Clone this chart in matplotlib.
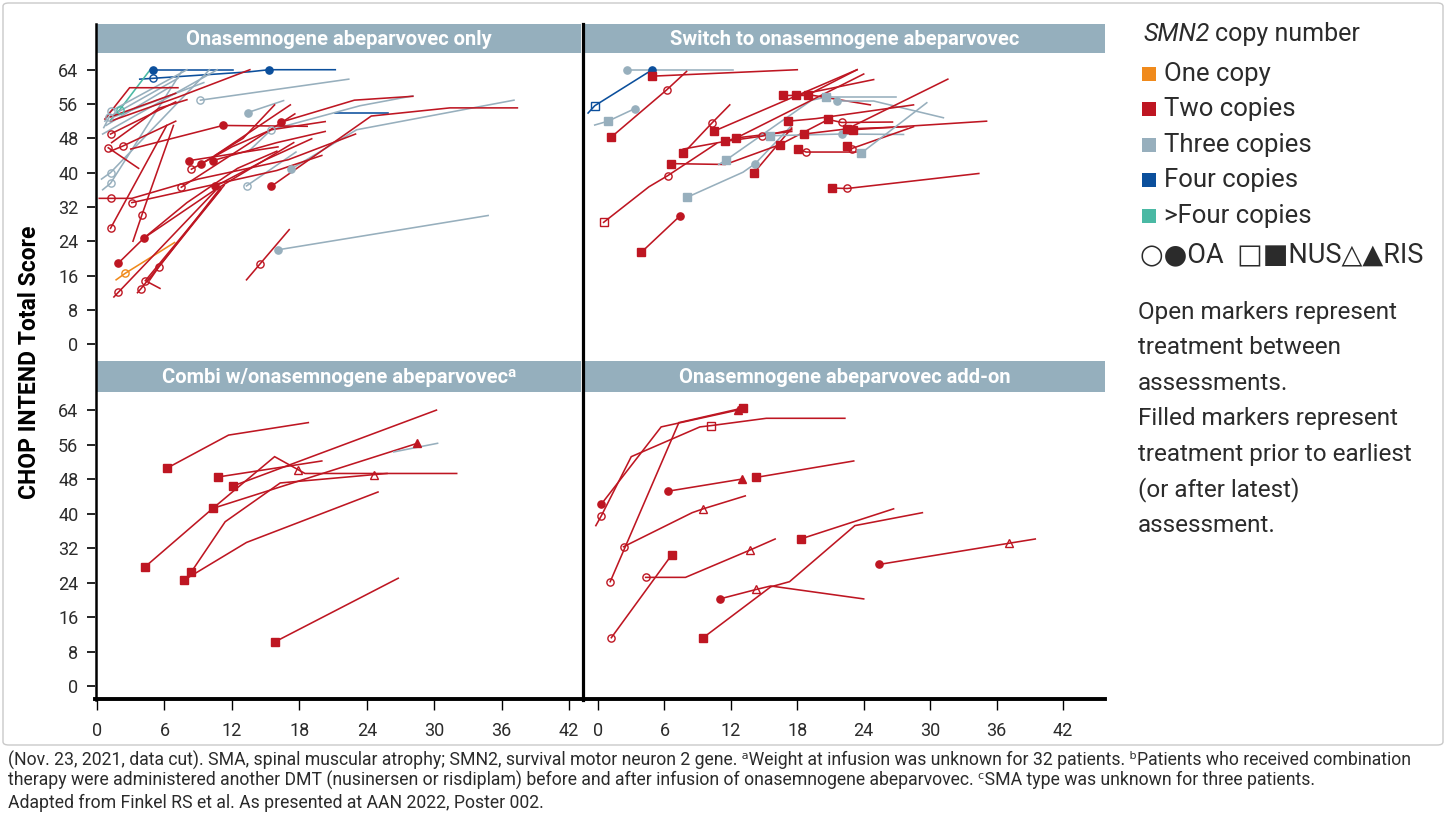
import matplotlib
matplotlib.use("Agg")
import matplotlib.pyplot as plt
from matplotlib.patches import Rectangle, FancyBboxPatch
from matplotlib.lines import Line2D

plt.rcParams['font.family'] = ['Roboto', 'DejaVu Sans']

# ---------------- data ----------------
# SMN2 copy number: 1..4, 5 means ">4"
# each trajectory: (copies, months, scores, treatment markers)
# treatment marker: (month, score, drug, given_between_assessments)

only_traj = [
    (4, [5.0, 12.1], [64.0, 64.0], [(5.0, 64.0, 'OA', False)]),
    (4, [3.8, 5.0, 13.5, 15.3, 21.2], [61.8, 62.0, 63.5, 64.0, 64.0],
     [(5.0, 62.0, 'OA', True), (15.3, 64.0, 'OA', False)]),
    (4, [21.2, 25.9], [54.0, 54.0], []),
    (5, [1.2, 2.0, 4.7], [52.3, 54.6, 63.9], [(2.0, 54.6, 'OA', True)]),
    (1, [1.7, 2.5, 6.9], [15.0, 16.5, 23.7], [(2.5, 16.5, 'OA', True)]),
    (3, [9.2, 22.4], [56.9, 61.8], [(9.2, 56.9, 'OA', True)]),
    (3, [13.4, 16.6], [54.0, 56.8], [(13.4, 54.0, 'OA', False)]),
    (3, [17.3, 23.1, 37.1], [40.9, 50.0, 56.9], [(17.3, 40.9, 'OA', False)]),
    (3, [13.3, 17.7], [36.9, 44.8], [(13.3, 36.9, 'OA', True)]),
    (3, [13.5, 15.5, 23.4, 28.1], [45.0, 50.0, 55.6, 57.9], [(15.5, 50.0, 'OA', True)]),
    (3, [16.1, 34.8], [22.0, 30.0], [(16.1, 22.0, 'OA', False)]),
    (3, [0.5, 1.2, 7.5], [36.0, 37.5, 63.5], [(1.2, 37.5, 'OA', True)]),
    (3, [0.4, 1.2, 10.0], [38.5, 40.0, 64.0], [(1.2, 40.0, 'OA', True)]),
    (3, [0.5, 10.7], [49.0, 64.0], []),
    (3, [0.7, 1.2, 8.0], [52.0, 54.3, 64.0], [(1.2, 54.3, 'OA', True)]),
    (3, [0.6, 1.1, 7.2], [50.5, 53.0, 62.0], [(1.1, 53.0, 'OA', True)]),
    (3, [0.8, 6.5], [51.0, 60.0], []),
    (3, [1.5, 9.5], [53.0, 61.0], []),
    (2, [1.2, 6.2], [27.0, 51.0], [(1.2, 27.0, 'OA', True)]),
    (2, [3.2, 4.0, 6.8], [24.0, 30.2, 51.0], [(4.0, 30.2, 'OA', True)]),
    (2, [0.2, 1.2, 3.1, 9.0, 17.0, 23.0], [34.0, 34.0, 34.0, 38.5, 43.0, 49.0],
     [(1.2, 34.0, 'OA', True)]),
    (2, [3.1, 10.0, 16.0, 20.0], [33.0, 37.0, 40.5, 44.0], [(3.1, 33.0, 'OA', True)]),
    (2, [1.9, 4.2, 10.5, 17.5], [18.9, 24.8, 36.0, 47.0], [(1.9, 18.9, 'OA', False)]),
    (2, [4.2, 8.0, 12.5, 16.0], [24.8, 33.0, 41.0, 45.0], [(4.2, 24.8, 'OA', False)]),
    (2, [1.5, 1.9, 10.5], [11.0, 12.1, 35.7], [(1.9, 12.1, 'OA', True)]),
    (2, [3.6, 3.9, 11.0], [12.0, 12.9, 36.0], [(3.9, 12.9, 'OA', True)]),
    (2, [5.6, 4.3, 11.3], [13.0, 14.8, 37.0], [(4.3, 14.8, 'OA', True)]),
    (2, [4.7, 5.5, 11.0], [15.0, 18.0, 36.5], [(5.5, 18.0, 'OA', True)]),
    (2, [13.3, 14.5, 17.1], [15.0, 18.7, 26.7], [(14.5, 18.7, 'OA', True)]),
    (2, [7.5, 17.6], [36.6, 53.7], [(7.5, 36.6, 'OA', True)]),
    (2, [8.4, 12.0, 15.5, 20.3], [40.8, 46.0, 50.0, 51.9], [(8.4, 40.8, 'OA', True)]),
    (2, [8.2, 16.1], [42.8, 46.0], [(8.2, 42.8, 'OA', False)]),
    (2, [9.25, 13.0, 15.8], [42.0, 48.0, 55.8], [(9.25, 42.0, 'OA', False)]),
    (2, [10.3, 16.0, 20.3], [42.8, 47.0, 49.6], [(10.3, 42.8, 'OA', False)]),
    (2, [10.5, 15.0, 19.1], [36.8, 43.0, 47.9], [(10.5, 36.8, 'OA', False)]),
    (2, [15.5, 24.4, 31.4, 37.4], [36.8, 53.2, 55.1, 55.1], [(15.5, 36.8, 'OA', False)]),
    (2, [16.4, 22.9, 28.1], [51.8, 56.9, 57.8], [(16.4, 51.8, 'OA', False)]),
    (2, [3.0, 11.2, 18.7], [45.5, 51.0, 50.8], [(11.2, 51.0, 'OA', False)]),
    (2, [10.5, 17.2], [44.0, 55.8], []),
    (2, [1.2, 7.2, 13.6], [52.0, 57.6, 64.0], []),
    (2, [1.2, 7.0], [49.0, 56.5], [(1.2, 49.0, 'OA', True)]),
    (2, [0.7, 2.9, 7.2], [52.5, 59.8, 59.8], []),
    (2, [1.2, 7.0], [53.0, 58.5], []),
    (2, [1.0, 3.7], [45.8, 41.0], [(1.0, 45.8, 'OA', True)]),
    (2, [1.2, 2.3, 7.0], [45.0, 46.2, 52.0], [(2.3, 46.2, 'OA', True)]),
    (2, [1.3, 5.5, 8.0], [47.0, 55.0, 57.0], []),
]

switch_traj = [
    (4, [-0.9, -0.3, 4.9], [53.9, 55.6, 64.0], [(-0.3, 55.6, 'NUS', True), (4.9, 64.0, 'OA', False)]),
    (3, [2.6, 12.2], [64.0, 64.0], [(2.6, 64.0, 'OA', False)]),
    (2, [4.9, 18.0], [62.5, 64.0], [(4.9, 62.5, 'NUS', False)]),
    (3, [-0.3, 0.9, 3.3], [51.1, 52.0, 54.9], [(0.9, 52.0, 'NUS', False), (3.3, 54.9, 'OA', False)]),
    (2, [1.2, 6.2, 8.0], [48.3, 59.3, 63.6], [(1.2, 48.3, 'NUS', False), (6.2, 59.3, 'OA', True)]),
    (2, [0.5, 4.6, 6.3, 10.7], [28.4, 36.7, 39.3, 46.8], [(0.5, 28.4, 'NUS', True), (6.3, 39.3, 'OA', True)]),
    (2, [3.9, 7.4], [21.4, 29.9], [(3.9, 21.4, 'NUS', False), (7.4, 29.9, 'OA', False)]),
    (3, [8.0, 13.1, 14.2, 17.5], [34.2, 40.1, 42.1, 51.0], [(8.0, 34.2, 'NUS', False), (14.2, 42.1, 'OA', False)]),
    (2, [7.7, 10.3, 11.9], [44.5, 51.6, 55.8], [(7.7, 44.5, 'NUS', False), (10.3, 51.6, 'OA', True)]),
    (2, [7.7, 11.5, 12.5, 17.5], [45.5, 47.3, 48.1, 49.6], [(11.5, 47.3, 'NUS', False)]),
    (2, [6.6, 11.5, 16.4, 20.8], [42.1, 41.9, 46.5, 52.4], [(6.6, 42.1, 'NUS', False), (16.4, 46.5, 'NUS', False)]),
    (3, [10.9, 11.6, 19.3, 21.0], [41.9, 43.0, 56.9, 57.8], [(11.6, 43.0, 'NUS', False)]),
    (2, [10.5, 23.4], [49.7, 64.0], [(10.5, 49.7, 'NUS', False)]),
    (2, [12.5, 24.0], [48.1, 63.0], [(12.5, 48.1, 'NUS', False)]),
    (2, [11.5, 14.8, 17.5], [47.3, 48.5, 50.0], [(14.8, 48.5, 'OA', True)]),
    (2, [14.1, 17.5], [40.0, 50.4], [(14.1, 40.0, 'NUS', False)]),
    (3, [15.5, 22.0, 27.6], [48.6, 49.0, 48.9], [(15.5, 48.6, 'NUS', False), (22.0, 49.0, 'OA', False)]),
    (2, [16.7, 19.45, 24.6], [58.0, 58.0, 55.8], [(16.7, 58.0, 'NUS', False)]),
    (2, [17.9, 24.9], [58.0, 61.7], [(17.9, 58.0, 'NUS', False)]),
    (2, [19.0, 23.4], [58.2, 64.0], [(19.0, 58.2, 'NUS', False)]),
    (3, [20.6, 26.9], [57.7, 57.7], [(20.6, 57.7, 'NUS', False)]),
    (3, [21.6, 24.9, 31.2], [56.7, 56.7, 52.8], [(21.6, 56.7, 'OA', False)]),
    (2, [17.2, 19.7, 28.5], [52.0, 52.6, 55.8], [(17.2, 52.0, 'NUS', False)]),
    (2, [20.8, 22.0, 26.6], [52.4, 51.7, 51.8], [(20.8, 52.4, 'NUS', False), (22.0, 51.7, 'OA', True)]),
    (2, [22.5, 31.6], [50.2, 61.8], [(22.5, 50.2, 'NUS', False)]),
    (2, [23.0, 35.1], [50.0, 52.0], [(23.0, 50.0, 'NUS', False)]),
    (2, [18.6, 22.5, 27.9], [49.0, 50.2, 50.7], [(18.6, 49.0, 'NUS', False)]),
    (2, [22.5, 22.9, 28.5], [46.2, 45.6, 50.7], [(22.5, 46.2, 'NUS', False), (22.9, 45.6, 'OA', True)]),
    (2, [18.1, 18.8, 23.3], [45.5, 44.8, 44.8], [(18.1, 45.5, 'NUS', False), (18.8, 44.8, 'OA', True)]),
    (3, [23.8, 29.7], [44.6, 56.3], [(23.8, 44.6, 'NUS', False)]),
    (2, [21.1, 22.5, 34.4], [36.4, 36.3, 39.8], [(21.1, 36.4, 'NUS', False), (22.5, 36.3, 'OA', True)]),
]

combi_traj = [
    (2, [6.2, 11.7, 18.8], [50.5, 58.2, 61.1], [(6.2, 50.5, 'NUS', False)]),
    (2, [10.8, 20.0], [48.5, 52.2], [(10.8, 48.5, 'NUS', False)]),
    (2, [4.3, 10.3, 15.8, 18.5, 32.0], [27.7, 41.2, 53.2, 49.3, 49.3],
     [(4.3, 27.7, 'NUS', False), (17.9, 50.2, 'RIS', True)]),
    (2, [12.1, 30.2], [46.4, 64.0], [(12.1, 46.4, 'NUS', False)]),
    (2, [10.3, 28.5], [41.2, 56.3], [(10.3, 41.2, 'NUS', False), (28.5, 56.3, 'RIS', False)]),
    (3, [26.4, 30.3], [54.3, 56.3], []),
    (2, [8.4, 11.4, 16.3, 25.8], [26.5, 38.1, 47.1, 49.3],
     [(8.4, 26.5, 'NUS', False), (24.6, 49.0, 'RIS', True)]),
    (2, [7.7, 13.3, 25.0], [24.5, 33.3, 45.0], [(7.7, 24.5, 'NUS', False)]),
    (2, [15.8, 26.8], [10.2, 25.0], [(15.8, 10.2, 'NUS', False)]),
]

addon_traj = [
    (2, [-0.2, 0.3, 3.0, 9.2, 10.2, 15.2, 22.3], [37.2, 39.5, 53.2, 60.1, 60.4, 62.1, 62.1],
     [(0.3, 39.5, 'OA', True), (10.2, 60.4, 'NUS', True)]),
    (2, [0.3, 5.7, 12.6], [42.2, 60.1, 64.0], [(0.3, 42.2, 'OA', False), (12.6, 64.0, 'RIS', False)]),
    (2, [1.1, 7.3, 13.1], [24.2, 61.1, 64.5], [(1.1, 24.2, 'OA', True), (13.1, 64.5, 'NUS', False)]),
    (2, [6.35, 13.0], [45.2, 48.0], [(6.35, 45.2, 'OA', False), (13.0, 48.0, 'RIS', False)]),
    (2, [14.3, 23.1], [48.4, 52.2], [(14.3, 48.4, 'NUS', False)]),
    (2, [2.3, 8.5, 9.5, 13.3], [32.3, 40.2, 41.1, 44.1], [(2.3, 32.3, 'OA', True), (9.5, 41.1, 'RIS', True)]),
    (2, [1.2, 6.65], [11.2, 30.4], [(1.2, 11.2, 'OA', True), (6.65, 30.4, 'NUS', False)]),
    (2, [4.3, 7.9, 13.7, 16.0], [25.2, 25.2, 31.5, 34.1], [(4.3, 25.2, 'OA', True), (13.7, 31.5, 'RIS', True)]),
    (2, [18.3, 26.7], [34.1, 41.1], [(18.3, 34.1, 'NUS', False)]),
    (2, [11.0, 14.3, 15.6, 24.0], [20.2, 22.4, 23.2, 20.2], [(11.0, 20.2, 'OA', False), (14.3, 22.4, 'RIS', True)]),
    (2, [9.5, 15.6, 17.3, 23.2, 29.3], [11.2, 23.0, 24.2, 37.2, 40.2], [(9.5, 11.2, 'NUS', False)]),
    (2, [25.4, 37.1, 39.5], [28.2, 33.1, 34.1], [(25.4, 28.2, 'OA', False), (37.1, 33.1, 'RIS', True)]),
]

panel_titles = ["Onasemnogene abeparvovec only", "Switch to onasemnogene abeparvovec",
                "Combi w/onasemnogene abeparvovec\u1d43", "Onasemnogene abeparvovec add-on"]
y_ticks = [0, 8, 16, 24, 32, 40, 48, 56, 64]
x_ticks = [0, 6, 12, 18, 24, 30, 36, 42]
legend_labels = ["One copy", "Two copies", "Three copies", "Four copies", ">Four copies"]
note_lines = ["Open markers represent", "treatment between", "assessments.",
              "Filled markers represent", "treatment prior to earliest",
              "(or after latest)", "assessment."]
footer_lines = [
    "(Nov. 23, 2021, data cut). SMA, spinal muscular atrophy; SMN2, survival motor neuron 2 gene. "
    "\u1d43Weight at infusion was unknown for 32 patients. \u1d47Patients who received combination",
    "therapy were administered another DMT (nusinersen or risdiplam) before and after infusion of "
    "onasemnogene abeparvovec. \u1d9cSMA type was unknown for three patients.",
    "Adapted from Finkel RS et al. As presented at AAN 2022, Poster 002.",
]

# ---------------- style ----------------
COPY_COLORS = {1: "#f08a1c", 2: "#be1622", 3: "#97afbd", 4: "#0b4f9c", 5: "#4ab9a4"}
DRUG_MARKERS = {'OA': 'o', 'NUS': 's', 'RIS': '^'}
HEADER = "#95afbd"
TEXT = "#2b2b2b"

W, H = 1447, 813
fig = plt.figure(figsize=(W / 100, H / 100), dpi=100)


def fx(px):
    return px / W


def fy(py):
    return 1 - py / H


def make_axes(x0, x1, y0, y1, xlim, ylim):
    ax = fig.add_axes([fx(x0), fy(y1), fx(x1) - fx(x0), fy(y0) - fy(y1)])
    ax.set_xlim(*xlim)
    ax.set_ylim(*ylim)
    for s in ax.spines.values():
        s.set_visible(False)
    ax.patch.set_alpha(0)
    return ax


LEFT_X = (-0.18, 43.15)
RIGHT_X = (-1.45, 45.8)
TOP_Y = (-3.7, 67.9)
BOT_Y = (-3.25, 68.2)

ax_tl = make_axes(95, 582, 53, 360, LEFT_X, TOP_Y)
ax_tr = make_axes(582, 1105, 53, 360, RIGHT_X, TOP_Y)
ax_bl = make_axes(95, 582, 392, 700, LEFT_X, BOT_Y)
ax_br = make_axes(582, 1105, 392, 700, RIGHT_X, BOT_Y)


def draw_panel(ax, trajs):
    for copies, months, scores, marks in trajs:
        c = COPY_COLORS[copies]
        ax.plot(months, scores, color=c, lw=1.15, zorder=2, solid_joinstyle='miter')
        for m, s, drug, between in marks:
            ax.plot([m], [s], marker=DRUG_MARKERS[drug], ms=5.2 if drug != 'RIS' else 5.5,
                    mfc='none' if between else c, mec=c, mew=1.0, ls='none', zorder=3)


draw_panel(ax_tl, only_traj)
draw_panel(ax_tr, switch_traj)
draw_panel(ax_bl, combi_traj)
draw_panel(ax_br, addon_traj)

# axes ticks
for ax in (ax_tl, ax_bl):
    ax.set_yticks(y_ticks)
    ax.set_yticklabels([str(v) for v in y_ticks], fontsize=13, color=TEXT)
    ax.tick_params(axis='y', direction='out', length=6, width=1.2, pad=6, color='black')
for ax in (ax_tr, ax_br):
    ax.set_yticks([])
for ax in (ax_tl, ax_tr):
    ax.set_xticks([])
for ax in (ax_bl, ax_br):
    ax.set_xticks(x_ticks)
    ax.set_xticklabels([str(v) for v in x_ticks], fontsize=13, color=TEXT)
    ax.tick_params(axis='x', direction='out', length=7, width=1.0, pad=9, color='black')

# panel headers
for (x0, x1, y0, y1), title in zip([(97, 581, 24, 53), (584, 1105, 24, 53),
                                    (97, 581, 361, 392), (584, 1105, 361, 392)], panel_titles):
    fig.patches.append(Rectangle((fx(x0), fy(y1)), fx(x1) - fx(x0), fy(y0) - fy(y1),
                                 transform=fig.transFigure, facecolor=HEADER, edgecolor='none',
                                 zorder=0))
    fig.text(fx((x0 + x1) / 2), fy((y0 + y1) / 2 + 1), title, color='white', fontsize=14.5,
             fontweight='bold', ha='center', va='center')

# frame lines: left spine, centre divider, bottom axis
fig.add_artist(Line2D([fx(96), fx(96)], [fy(24), fy(700)], color='black', lw=1.8,
                      transform=fig.transFigure))
fig.add_artist(Line2D([fx(583), fx(583)], [fy(24), fy(700)], color='black', lw=2.3,
                      transform=fig.transFigure))
fig.add_artist(Line2D([fx(95), fx(1105)], [fy(699), fy(699)], color='black', lw=2.8,
                      transform=fig.transFigure))

# y label
fig.text(fx(30), fy(362), "CHOP INTEND Total Score", rotation=90, fontsize=16.5,
         fontweight='bold', ha='center', va='center', color='black')

# legend title: italic gene name followed by plain text
t_gene = fig.text(fx(1143), fy(34), "SMN2", fontsize=18, style='italic', ha='left',
                  va='center', color=TEXT)
renderer = fig.canvas.get_renderer()
bb = t_gene.get_window_extent(renderer=renderer)
fig.text(bb.x1 / W + 6 / W, fy(34), "copy number", fontsize=18, ha='left', va='center',
         color=TEXT)

for i, (lab, copies) in enumerate(zip(legend_labels, [1, 2, 3, 4, 5])):
    yc = 74 + i * 35.4
    fig.patches.append(Rectangle((fx(1142), fy(yc + 7)), 14 / W, 14 / H,
                                 transform=fig.transFigure, facecolor=COPY_COLORS[copies],
                                 edgecolor='none'))
    fig.text(fx(1164), fy(yc), lab, fontsize=18.5, ha='left', va='center', color=TEXT)
fig.text(fx(1140), fy(255), "\u25cb\u25cfOA  \u25a1\u25a0NUS\u25b3\u25b2RIS", fontsize=19.5,
         ha='left', va='center', color=TEXT)

for i, line in enumerate(note_lines):
    fig.text(fx(1138), fy(312 + i * 35.6), line, fontsize=17.5, ha='left', va='center',
             color=TEXT)

# footer
for line, yc in zip(footer_lines, [760, 780, 803]):
    fig.text(fx(8), fy(yc), line, fontsize=12.7, ha='left', va='center', color=TEXT)

# outer frame
fig.patches.append(FancyBboxPatch((fx(3), fy(745)), fx(1443) - fx(3), fy(3) - fy(745),
                                  boxstyle="round,pad=0,rounding_size=0.004",
                                  transform=fig.transFigure, facecolor='none',
                                  edgecolor='#c9c9c9', lw=1.0))

fig.savefig("out.png", dpi=100, facecolor='white')
